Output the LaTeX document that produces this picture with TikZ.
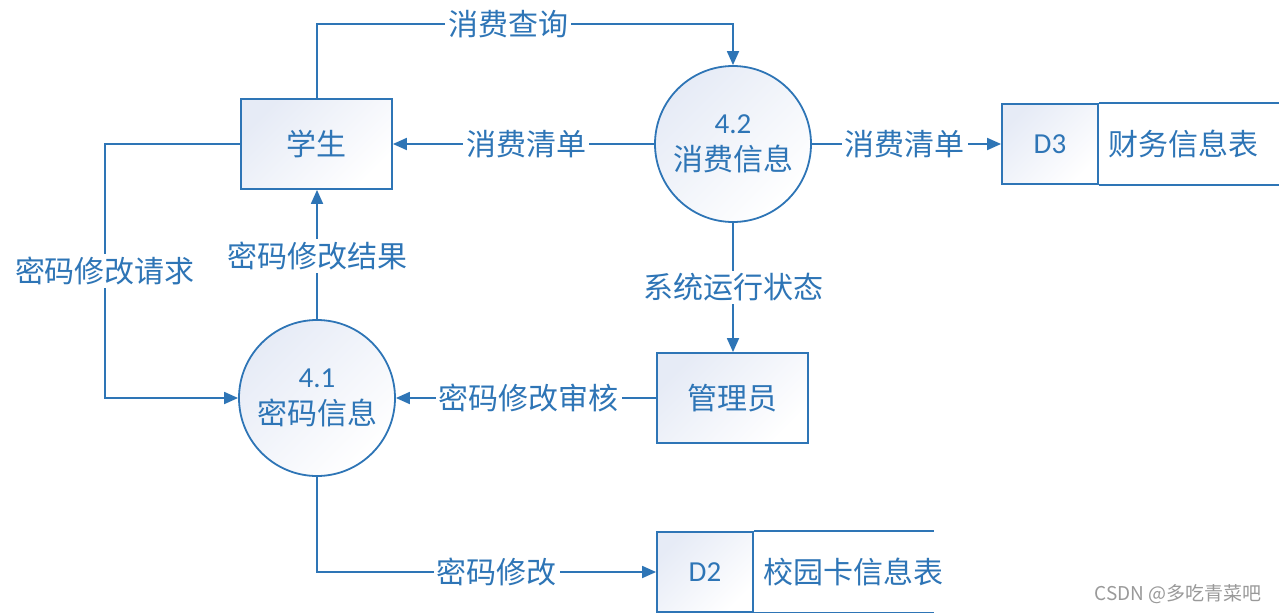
\documentclass[tikz,border=0pt]{standalone}
\usepackage{fontspec}
\setmainfont{Carlito}
\newfontfamily\cjk{Noto Sans CJK SC}
\usetikzlibrary{arrows.meta}
\definecolor{dfd}{HTML}{2E75B6}
\definecolor{shadeblue}{HTML}{E6EBF6}
\tikzset{
  base/.style={draw=dfd, line width=1.8pt, text=dfd, font=\fontsize{29}{35}\selectfont},
  procbox/.style={base, rectangle, minimum width=151pt, minimum height=90pt, inner sep=0pt,
    shading=axis, top color=shadeblue, bottom color=white, shading angle=45},
  proccirc/.style={base, circle, minimum size=156pt, inner sep=0pt, align=center,
    shading=axis, top color=shadeblue, bottom color=white, shading angle=45},
  storeid/.style={base, rectangle, minimum width=96pt, minimum height=80pt, inner sep=0pt,
    shading=axis, top color=shadeblue, bottom color=white, shading angle=45},
  storetxt/.style={text=dfd, font=\fontsize{30}{36}\selectfont\cjk, inner sep=0pt, anchor=west},
  flow/.style={draw=dfd, line width=1.8pt, -{Triangle[length=14pt,width=12pt]}},
  line/.style={draw=dfd, line width=1.8pt},
  lab/.style={fill=white, text=dfd, font=\fontsize{30}{36}\selectfont\cjk, inner sep=3pt},
  cjkin/.style={font=\fontsize{30}{36}\selectfont\cjk},
}
\begin{document}
\begin{tikzpicture}[x=1pt,y=-1pt]
\useasboundingbox (0,0) rectangle (1280,613);
% processes and entities
\node[procbox, cjkin] (stu) at (316.5,144) {学生};
\node[proccirc] (p42) at (733,144) {4.2\\[2pt]{\fontsize{30}{36}\selectfont\cjk 消费信息}};
\node[proccirc] (p41) at (317,398) {4.1\\[2pt]{\fontsize{30}{36}\selectfont\cjk 密码信息}};
\node[procbox, cjkin] (adm) at (732.5,398) {管理员};
% data stores
\node[storeid] (d3) at (1050,144) {D3};
\node[storetxt] (d3n) at (1108,144) {财务信息表};
\draw[line] (d3.north east) -- +(180,0);
\draw[line] (d3.south east) -- +(180,0);
\node[storeid] (d2) at (705,572) {D2};
\node[storetxt] (d2n) at (763,572) {校园卡信息表};
\draw[line] (d2.north east) -- +(180,0);
\draw[line] (d2.south east) -- +(180,0);
% corner coordinates
\coordinate (t1) at (317,24);
\coordinate (t2) at (733,24);
\coordinate (l1) at (105,144);
\coordinate (l2) at (105,398);
\coordinate (b1) at (317,572);
% flows
\draw[flow] (stu.north -| t1) -- (t1) -- node[lab, pos=0.46] {消费查询} (t2) -- (p42.north);
\draw[flow] (p42.west) -- node[lab, pos=0.49] {消费清单} (stu.east);
\draw[flow] (p42.east) -- node[lab, pos=0.49] {消费清单} (d3.west);
\draw[flow] (p42.south) -- node[lab] {系统运行状态} (adm.north -| p42.south);
\draw[flow] (adm.west) -- node[lab, pos=0.49] {密码修改审核} (p41.east);
\draw[flow] (p41.north) -- node[lab, pos=0.49] {密码修改结果} (stu.south -| p41.north);
\draw[flow] (stu.west) -- (l1) -- node[lab] {密码修改请求} (l2) -- (p41.west);
\draw[flow] (p41.south) -- (b1) -- node[lab, pos=0.53] {密码修改} (d2.west);
% watermark
\node[text=black!40, font=\fontsize{19}{23}\selectfont\cjk, inner sep=0pt] (wm) at (1178,594) {CSDN @多吃青菜吧};
\end{tikzpicture}
\end{document}
